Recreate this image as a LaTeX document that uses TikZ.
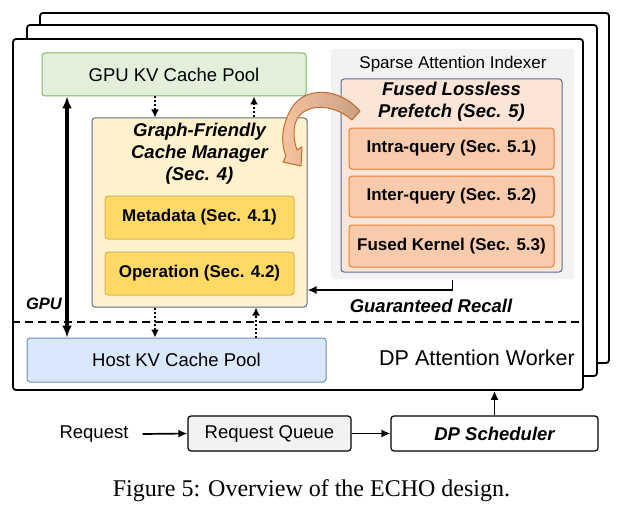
\documentclass[tikz,border=0pt]{standalone}
\usepackage{fontspec}
\setmainfont{Liberation Sans}
\newfontfamily\capfont{Liberation Serif}
\usetikzlibrary{arrows.meta,calc}
\definecolor{gpuFill}{HTML}{E2EFDA}
\definecolor{gpuDraw}{HTML}{82B366}
\definecolor{mgrFill}{HTML}{FFF2CC}
\definecolor{slate}{HTML}{5A6E8C}
\definecolor{goldFill}{HTML}{FFD966}
\definecolor{goldDraw}{HTML}{D6B656}
\definecolor{idxFill}{HTML}{F2F2F2}
\definecolor{peachFill}{HTML}{FBE5D6}
\definecolor{orFill}{HTML}{F8CBAD}
\definecolor{orDraw}{HTML}{ED7D31}
\definecolor{hostFill}{HTML}{DAE8FC}
\definecolor{hostDraw}{HTML}{6C8EBF}
\definecolor{arrLight}{HTML}{F6C4A0}
\definecolor{arrDark}{HTML}{C9A084}
\definecolor{arrDraw}{HTML}{C46A2E}
\tikzset{
  frame/.style={draw=black, line width=1.8pt, fill=white, rounded corners=3pt},
  box/.style={rounded corners=3pt, line width=1pt, inner sep=0pt, align=center},
  txt/.style={inner sep=0pt, align=center},
  reg/.style={font=\fontsize{18.5}{22}\selectfont},
  bi/.style={font=\fontsize{18.5}{22}\selectfont\bfseries\itshape},
  sub/.style={font=\fontsize{17}{20}\selectfont\bfseries},
  thick arrow/.style={line width=3.2pt, {Latex[length=12pt,width=10pt]}-{Latex[length=12pt,width=10pt]}},
  dot arrow/.style={line width=2pt, dash pattern=on 2pt off 2pt, -{Latex[length=8pt,width=8pt]}},
  flow/.style={line width=1.7pt, -{Latex[length=9pt,width=8pt]}},
}
\begin{document}
\begin{tikzpicture}[x=1pt,y=-1pt]
\useasboundingbox (0,0) rectangle (623,516);

% stacked worker frames
\node[frame, minimum width=569pt, minimum height=350pt] (back3) at (324.5,188) {};
\node[frame, minimum width=570pt, minimum height=351pt] (back2) at (312,200.5) {};
\node[frame, minimum width=570pt, minimum height=351pt] (worker) at (298,214.5) {};

% GPU pool
\node[box, draw=gpuDraw, fill=gpuFill, reg, minimum width=264pt, minimum height=43pt] (gpu) at (174,74.5) {GPU KV Cache Pool};

% Graph-friendly cache manager
\node[box, draw=slate, fill=mgrFill, minimum width=215pt, minimum height=189pt] (gfcm) at (199.5,212.5) {};
\node[txt, bi] (gfcmt) at (199.5,154) {Graph-Friendly\\Cache Manager\\(Sec. 4)};
\node[box, draw=goldDraw, fill=goldFill, sub, minimum width=189pt, minimum height=43pt] (meta) at (199.5,217.5) {Metadata (Sec. 4.1)};
\node[box, draw=goldDraw, fill=goldFill, sub, minimum width=189pt, minimum height=43pt] (oper) at (199.5,273.5) {Operation (Sec. 4.2)};

% Sparse attention indexer
\node[box, fill=idxFill, minimum width=243pt, minimum height=230pt] (idx) at (452.5,164) {};
\node[txt, font=\fontsize{17}{20}\selectfont] (idxt) at (453,64) {Sparse Attention Indexer};
\node[box, draw=slate, fill=peachFill, minimum width=221pt, minimum height=193pt] (fused) at (451.5,175.5) {};
\node[txt, bi] (fusedt) at (451.5,102) {Fused Lossless\\Prefetch (Sec. 5)};
\node[box, draw=orDraw, fill=orFill, sub, minimum width=205pt, minimum height=41pt] (intra) at (451.5,148.5) {Intra-query (Sec. 5.1)};
\node[box, draw=orDraw, fill=orFill, sub, minimum width=205pt, minimum height=41pt] (inter) at (451.5,196.5) {Inter-query (Sec. 5.2)};
\node[box, draw=orDraw, fill=orFill, sub, minimum width=205pt, minimum height=42pt] (kern) at (451.5,246) {Fused Kernel (Sec. 5.3)};

% curved block arrow from prefetch to cache manager
\draw[arrDraw, line width=1pt, left color=arrLight, right color=arrDark, line join=round]
  (360,111) .. controls (340,88) and (305,85) .. (291,109)
  .. controls (281,127) and (281,144) .. (286,156)
  -- (283,162) -- (301,166) -- (302,147) -- (297,150)
  .. controls (292,136) and (293,121) .. (301,114)
  .. controls (313,103) and (336,106) .. (352,120) -- cycle;

% GPU / host boundary
\coordinate (dashy) at (0,322);
\draw[line width=1.8pt, dash pattern=on 8pt off 5pt] (worker.west |- dashy) -- (worker.east |- dashy);
\node[txt, font=\fontsize{16.5}{20}\selectfont\bfseries\itshape] (gpul) at (44,304) {GPU};

% Host pool
\node[box, draw=hostDraw, fill=hostFill, reg, minimum width=299pt, minimum height=44pt] (host) at (176.5,360) {Host KV Cache Pool};
\node[txt, font=\fontsize{21.5}{25}\selectfont] (dpw) at (477,358) {DP Attention Worker};

% arrows between pools and manager
\coordinate (tx) at (67,0);
\coordinate (dx) at (155,0);
\coordinate (ux) at (254,0);
\coordinate (ux2) at (256,0);
\draw[thick arrow] (gpu.south -| tx) -- (host.north -| tx);
\draw[dot arrow] (gpu.south -| dx) -- (gfcm.north -| dx);
\draw[dot arrow] (gfcm.north -| ux) -- (gpu.south -| ux);
\draw[dot arrow] (gfcm.south -| dx) -- (host.north -| dx);
\draw[dot arrow] (host.north -| ux2) -- (gfcm.south -| ux2);

% guaranteed recall
\coordinate (gry) at (0,290);
\draw[flow] (idx.south) |- (gfcm.east |- gry);
\node[txt, bi] (grl) at (431,306) {Guaranteed Recall};

% request path
\node[txt, reg] (req) at (94,434) {Request};
\node[box, draw=black, fill=idxFill, line width=1.2pt, reg, minimum width=163pt, minimum height=35pt] (rq) at (269.5,433.5) {Request Queue};
\node[box, draw=black, fill=white, line width=1.2pt, bi, minimum width=207pt, minimum height=35pt] (dp) at (494.5,433.5) {DP Scheduler};
\draw[flow] ([xshift=14pt]req.east) -- (rq.west);
\draw[flow] (rq.east) -- (dp.west);
\draw[flow] (dp.north) -- (dp.north |- worker.south);

% caption
\node[txt, font=\capfont\fontsize{24}{28}\selectfont] (cap) at (311.5,491) {Figure 5: Overview of the ECHO design.};
\end{tikzpicture}
\end{document}
